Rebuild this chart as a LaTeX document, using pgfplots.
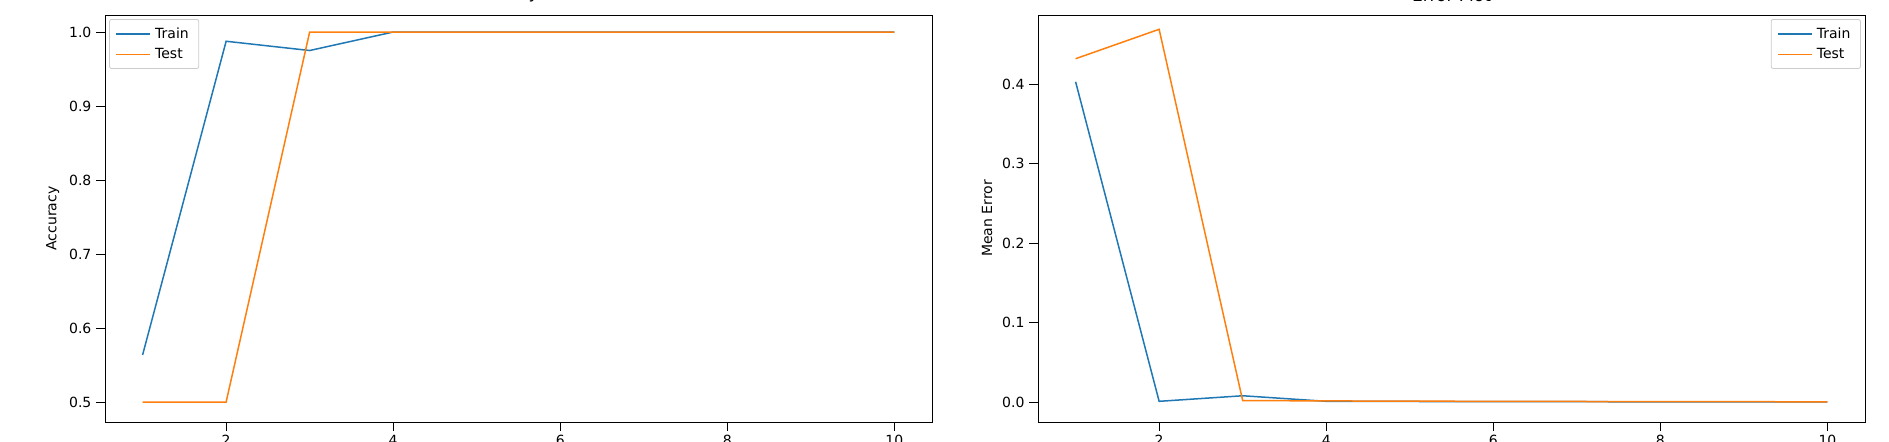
\documentclass[border=0pt]{standalone}
\usepackage{pgfplots}
\pgfplotsset{compat=1.18}
\usepackage{fontspec}
\setmainfont{DejaVu Sans}
\definecolor{c1}{HTML}{1F77B4}
\definecolor{c2}{HTML}{FF7F0E}
\begin{document}
\fontsize{7pt}{8pt}\selectfont
\begin{tikzpicture}
\path[use as bounding box] (0,0) rectangle (944.5pt,221pt);
\pgfplotsset{every axis/.style={overlay, scale only axis, width=413.5pt, height=203.5pt,
 xmin=0.55, xmax=10.45, xtick={2,4,6,8,10}, tick align=outside, tick pos=left,
 tick style={black}, /pgf/number format/assume math mode=true,
 ticklabel style={font=\fontsize{7pt}{8pt}\selectfont},
 label style={font=\fontsize{7pt}{8pt}\selectfont},
 title style={font=\fontsize{8.5pt}{9pt}\selectfont, yshift=-2pt},
 legend style={font=\fontsize{7pt}{8pt}\selectfont, draw=black!20, rounded corners=1pt},
 legend cell align=left, every axis plot/.append style={line width=0.75pt}}}
\begin{axis}[at={(52.5pt,10pt)}, anchor=south west, ymin=0.473, ymax=1.023,
 ytick={0.5,0.6,0.7,0.8,0.9,1.0}, yticklabel style={/pgf/number format/.cd, fixed, fixed zerofill, precision=1},
 ylabel={Accuracy}, title={Accuracy Plot}, legend style={at={(0.005,0.99)}, anchor=north west}]
\addplot[c1] coordinates {(1,0.5636)(2,0.9875)(3,0.975)(4,1)(5,1)(6,1)(7,1)(8,1)(9,1)(10,1)};
\addplot[c2] coordinates {(1,0.5)(2,0.5)(3,1)(4,1)(5,1)(6,1)(7,1)(8,1)(9,1)(10,1)};
\legend{Train,Test}
\end{axis}
\begin{axis}[at={(519pt,10pt)}, anchor=south west, ymin=-0.025, ymax=0.487,
 ytick={0,0.1,0.2,0.3,0.4}, yticklabel style={/pgf/number format/.cd, fixed, fixed zerofill, precision=1},
 ylabel={Mean Error}, title={Error Plot}, legend style={at={(0.995,0.99)}, anchor=north east}]
\addplot[c1] coordinates {(1,0.403)(2,0.001)(3,0.008)(4,0.001)(5,0.0008)(6,0.0006)(7,0.0005)(8,0.0004)(9,0.0003)(10,0.0003)};
\addplot[c2] coordinates {(1,0.432)(2,0.469)(3,0.002)(4,0.0015)(5,0.0012)(6,0.001)(7,0.0008)(8,0.0006)(9,0.0005)(10,0.0004)};
\legend{Train,Test}
\end{axis}
\end{tikzpicture}
\end{document}
